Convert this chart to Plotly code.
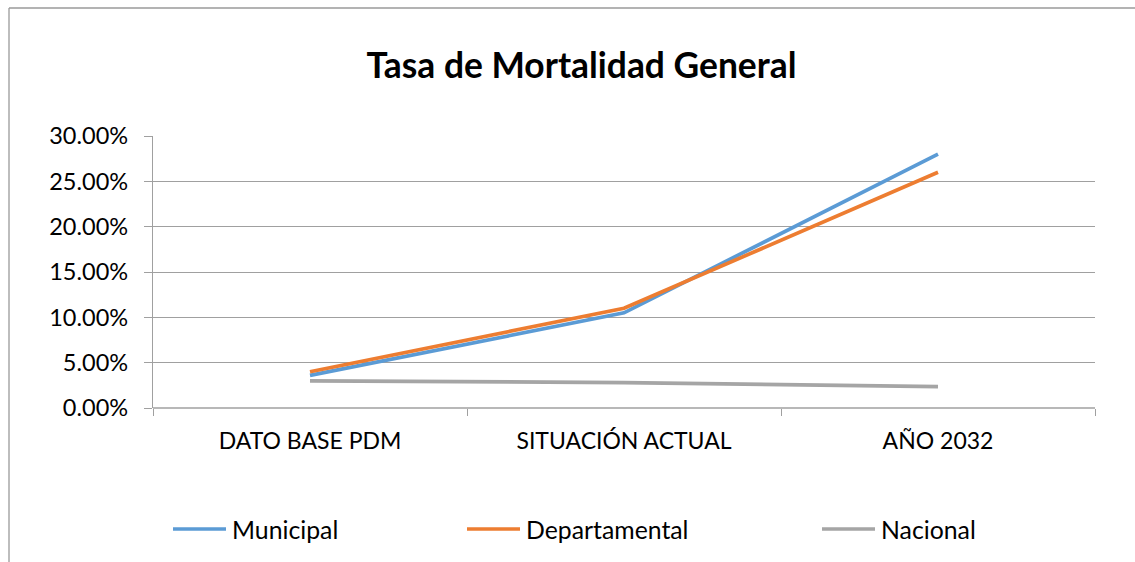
import plotly.graph_objects as go

categories = ["DATO BASE PDM", "SITUACIÓN ACTUAL", "AÑO 2032"]
municipal = [0.036, 0.105, 0.280]
departamental = [0.040, 0.110, 0.260]
nacional = [0.030, 0.028, 0.0235]
series_names = ["Municipal", "Departamental", "Nacional"]
colors = ["#5B9BD5", "#ED7D31", "#A5A5A5"]
y_ticks = [0, 0.05, 0.10, 0.15, 0.20, 0.25, 0.30]

FONT = "Lato"
W, H = 1135, 562
L, R, T, B = 153, 40, 136, 154
pw, ph = W - L - R, H - T - B

def px_x(x):
    return (x - L) / pw

def px_y(y):
    return (H - B - y) / ph

fig = go.Figure()
for name, vals, col in zip(series_names, [municipal, departamental, nacional], colors):
    fig.add_trace(go.Scatter(x=categories, y=vals, name=name, mode="lines",
                             line=dict(color=col, width=3.7), showlegend=False))

# manual legend (Excel-style long line samples)
leg_line_x = [173, 467, 822]
leg_y = 529
for name, col, lx in zip(series_names, colors, leg_line_x):
    fig.add_shape(type="line", xref="paper", yref="paper",
                  x0=px_x(lx), x1=px_x(lx + 53), y0=px_y(leg_y), y1=px_y(leg_y),
                  line=dict(color=col, width=3.7))
    fig.add_annotation(text=name, xref="paper", yref="paper",
                       x=px_x(lx + 57), y=px_y(leg_y), xanchor="left", yanchor="middle",
                       showarrow=False, font=dict(family=FONT, size=24.8, color="#000000"))

fig.update_layout(
    width=W, height=H,
    margin=dict(l=L, r=R, t=T, b=B),
    paper_bgcolor="white", plot_bgcolor="white",
    showlegend=False,
    font=dict(family=FONT, color="#000000"),
    title=dict(text="<b>Tasa de Mortalidad General</b>", x=581.5 / W, xanchor="center",
               xref="container", y=1 - 66 / H, yanchor="middle",
               font=dict(family=FONT, size=35.4, color="#000000")),
    xaxis=dict(type="category", range=[-0.5, 2.5], tickson="boundaries",
               ticks="outside", ticklen=7, tickcolor="#A0A0A0",
               showgrid=False, showline=False, zeroline=False,
               tickfont=dict(family=FONT, size=23, color="#000000"),
               ticklabelstandoff=17),
    yaxis=dict(range=[0, 0.30], tickvals=y_ticks, tickformat=".2%",
               showgrid=True, gridcolor="#A0A0A0", gridwidth=1.3,
               zeroline=False, showline=True, linecolor="#A0A0A0", linewidth=1.3,
               ticks="outside", ticklen=8, tickcolor="#A0A0A0",
               tickfont=dict(family=FONT, size=23.5, color="#000000"),
               ticklabelstandoff=11),
)

# x-axis baseline
fig.add_shape(type="line", xref="paper", yref="paper", x0=0, x1=1, y0=0, y1=0,
              line=dict(color="#A0A0A0", width=1.3), layer="below")

# chart frame (left and top edges visible)
fig.add_shape(type="line", xref="paper", yref="paper",
              x0=px_x(9), x1=px_x(9), y0=px_y(H + 5), y1=px_y(8),
              line=dict(color="#9A9A9A", width=1.3))
fig.add_shape(type="line", xref="paper", yref="paper",
              x0=px_x(9), x1=px_x(W + 5), y0=px_y(8), y1=px_y(8),
              line=dict(color="#9A9A9A", width=1.3))

fig.write_html("out.html", config={"displayModeBar": False},
               post_script="document.body.style.margin='0';document.body.style.overflow='hidden';")
